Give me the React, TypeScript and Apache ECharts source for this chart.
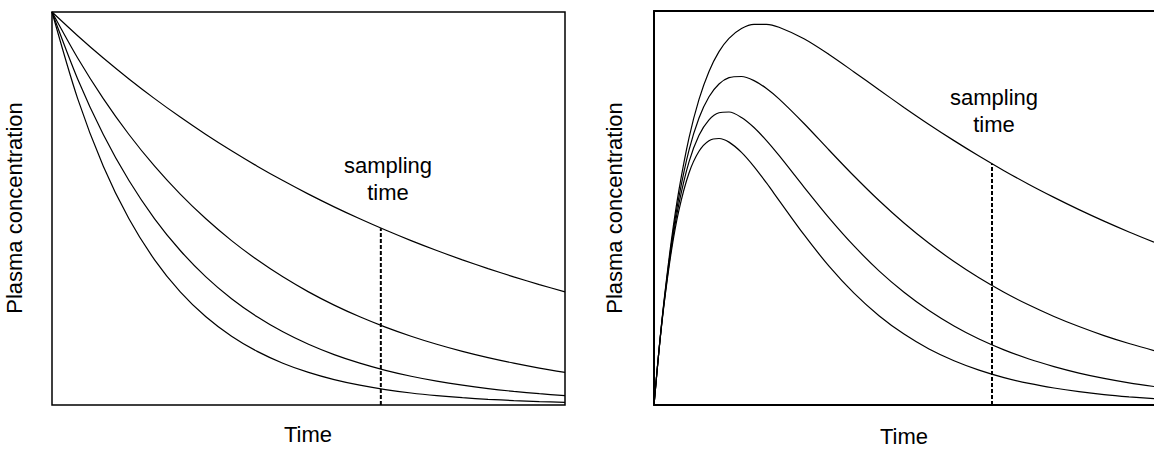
import React, { useEffect, useRef } from "react";
import * as echarts from "echarts";

// ---------- data ----------
const xLabel = "Time";
const yLabel = "Plasma concentration";
const samplingLabel = "sampling\ntime";

// Left panel: i.v. bolus, four elimination rates
const leftTimes = [0, 0.5, 1, 1.5, 2, 2.5, 3, 3.5, 4, 4.5, 5, 5.5, 6, 6.5, 7, 7.5, 8, 8.5, 9, 9.5, 10];
const leftCurve1 = [1, 0.9397, 0.8829, 0.8297, 0.7796, 0.7326, 0.6883, 0.6468, 0.6077, 0.5711, 0.5366, 0.5042, 0.4738, 0.4452, 0.4183, 0.3931, 0.3694, 0.3471, 0.3261, 0.3064, 0.2879];
const leftCurve2 = [1, 0.883, 0.7796, 0.6883, 0.6077, 0.5366, 0.4738, 0.4183, 0.3694, 0.3261, 0.2879, 0.2542, 0.2245, 0.1982, 0.175, 0.1545, 0.1364, 0.1205, 0.1064, 0.0939, 0.0829];
const leftCurve3 = [1, 0.8297, 0.6883, 0.5711, 0.4738, 0.3931, 0.3261, 0.2705, 0.2245, 0.1862, 0.1545, 0.1282, 0.1064, 0.0882, 0.0732, 0.0607, 0.0504, 0.0418, 0.0347, 0.0288, 0.0239];
const leftCurve4 = [1, 0.7796, 0.6077, 0.4738, 0.3694, 0.2879, 0.2245, 0.175, 0.1364, 0.1064, 0.0829, 0.0646, 0.0504, 0.0393, 0.0306, 0.0239, 0.0186, 0.0145, 0.0113, 0.0088, 0.0069];
const leftSamplingTime = 6.41;
const leftSamplingTop = 0.45;

// Right panel: oral dose, four elimination rates
const rightTimes = [0, 0.1, 0.2, 0.35, 0.5, 0.7, 0.9, 1.1, 1.3, 1.5, 1.75, 2, 2.25, 2.5, 3, 3.5, 4, 4.5, 5, 5.5, 6, 6.5, 7, 7.5, 8, 8.5, 9, 9.5, 10];
const rightCurve1 = [0, 0.1407, 0.2638, 0.4199, 0.5465, 0.6781, 0.7756, 0.8467, 0.8968, 0.9307, 0.9556, 0.9662, 0.9662, 0.9587, 0.9294, 0.8896, 0.8454, 0.8001, 0.7553, 0.7121, 0.671, 0.6319, 0.5948, 0.5598, 0.527, 0.4959, 0.4667, 0.4392, 0.4133];
const rightCurve2 = [0, 0.1399, 0.2606, 0.4106, 0.5288, 0.6467, 0.7285, 0.7825, 0.8148, 0.8308, 0.8338, 0.8233, 0.8034, 0.777, 0.7145, 0.6472, 0.5811, 0.5189, 0.4619, 0.4104, 0.3642, 0.3229, 0.2862, 0.2536, 0.2247, 0.1991, 0.1762, 0.1561, 0.1382];
const rightCurve3 = [0, 0.139, 0.2573, 0.4013, 0.5117, 0.6169, 0.6845, 0.7239, 0.7417, 0.7437, 0.7298, 0.7043, 0.671, 0.6333, 0.5532, 0.475, 0.4037, 0.3405, 0.2861, 0.2397, 0.2005, 0.1674, 0.1399, 0.1167, 0.0975, 0.0811, 0.0676, 0.0563, 0.0469];
const rightCurve4 = [0, 0.1382, 0.2542, 0.3926, 0.4955, 0.5889, 0.644, 0.6708, 0.6764, 0.6672, 0.6411, 0.6051, 0.5635, 0.5195, 0.4322, 0.3524, 0.2838, 0.2266, 0.1799, 0.1422, 0.1124, 0.0886, 0.0696, 0.0547, 0.0431, 0.0339, 0.0265, 0.0208, 0.0162];
const rightSamplingTime = 6.76;
const rightSamplingTop = 0.612;

const FONT = '"Liberation Sans", Arial, Helvetica, sans-serif';

function pairs(times: number[], vals: number[]) {
  return times.map((t, i) => [t, vals[i]]);
}

function curve(times: number[], vals: number[], idx: number) {
  return {
    type: "line",
    xAxisIndex: idx,
    yAxisIndex: idx,
    data: pairs(times, vals),
    smooth: 0.3,
    showSymbol: false,
    symbol: "none",
    silent: true,
    lineStyle: { color: "#000", width: 1.2 },
    z: 3,
  };
}

function dashed(t: number, top: number, idx: number) {
  return {
    type: "line",
    xAxisIndex: idx,
    yAxisIndex: idx,
    data: [[t, 0], [t, top]],
    showSymbol: false,
    symbol: "none",
    silent: true,
    lineStyle: { color: "#000", width: 2, type: [4, 2] },
    z: 2,
  };
}

const hiddenAxisParts = {
  axisTick: { show: false },
  axisLabel: { show: false },
  splitLine: { show: false },
};

export default function App() {
  const ref = useRef<HTMLDivElement>(null);

  useEffect(() => {
    if (!ref.current) return;
    const chart = echarts.init(ref.current, null, { renderer: "svg" });

    const textStyleBase = {
      fill: "#000",
      fontSize: 22,
      fontFamily: FONT,
      align: "center",
      verticalAlign: "middle",
    };

    chart.setOption({
      animation: false,
      backgroundColor: "#fff",
      grid: [
        {
          left: 52,
          top: 12,
          width: 513,
          height: 393,
          show: true,
          borderColor: "#000",
          borderWidth: 1.5,
          backgroundColor: "transparent",
          outerBoundsMode: "none",
        },
        {
          left: 654,
          top: 11,
          width: 500,
          height: 394,
          show: false,
          outerBoundsMode: "none",
        },
      ],
      xAxis: [
        { type: "value", gridIndex: 0, min: 0, max: 10, axisLine: { show: false }, ...hiddenAxisParts },
        {
          type: "value",
          gridIndex: 1,
          min: 0,
          max: 10,
          position: "bottom",
          axisLine: { show: true, onZero: false, lineStyle: { color: "#000", width: 2 } },
          ...hiddenAxisParts,
        },
        {
          type: "value",
          gridIndex: 1,
          min: 0,
          max: 10,
          position: "top",
          axisLine: { show: true, onZero: false, lineStyle: { color: "#000", width: 2 } },
          ...hiddenAxisParts,
        },
      ],
      yAxis: [
        { type: "value", gridIndex: 0, min: 0, max: 1, axisLine: { show: false }, ...hiddenAxisParts },
        {
          type: "value",
          gridIndex: 1,
          min: 0,
          max: 1,
          position: "left",
          axisLine: { show: true, onZero: false, lineStyle: { color: "#000", width: 2 } },
          ...hiddenAxisParts,
        },
      ],
      series: [
        curve(leftTimes, leftCurve1, 0),
        curve(leftTimes, leftCurve2, 0),
        curve(leftTimes, leftCurve3, 0),
        curve(leftTimes, leftCurve4, 0),
        dashed(leftSamplingTime, leftSamplingTop, 0),
        curve(rightTimes, rightCurve1, 1),
        curve(rightTimes, rightCurve2, 1),
        curve(rightTimes, rightCurve3, 1),
        curve(rightTimes, rightCurve4, 1),
        dashed(rightSamplingTime, rightSamplingTop, 1),
      ],
      graphic: [
        { type: "text", x: 14, y: 208, rotation: Math.PI / 2, silent: true, style: { ...textStyleBase, text: yLabel } },
        { type: "text", x: 614, y: 208, rotation: Math.PI / 2, silent: true, style: { ...textStyleBase, text: yLabel } },
        { type: "text", x: 308, y: 434, silent: true, style: { ...textStyleBase, text: xLabel } },
        { type: "text", x: 904, y: 436, silent: true, style: { ...textStyleBase, text: xLabel } },
        { type: "text", x: 388, y: 179, silent: true, style: { ...textStyleBase, text: samplingLabel, lineHeight: 27 } },
        { type: "text", x: 994, y: 111, silent: true, style: { ...textStyleBase, text: samplingLabel, lineHeight: 27 } },
      ],
    });

    return () => chart.dispose();
  }, []);

  return (
    <div
      ref={ref}
      style={{ position: "absolute", left: 0, top: 0, width: 1154, height: 450 }}
    />
  );
}
